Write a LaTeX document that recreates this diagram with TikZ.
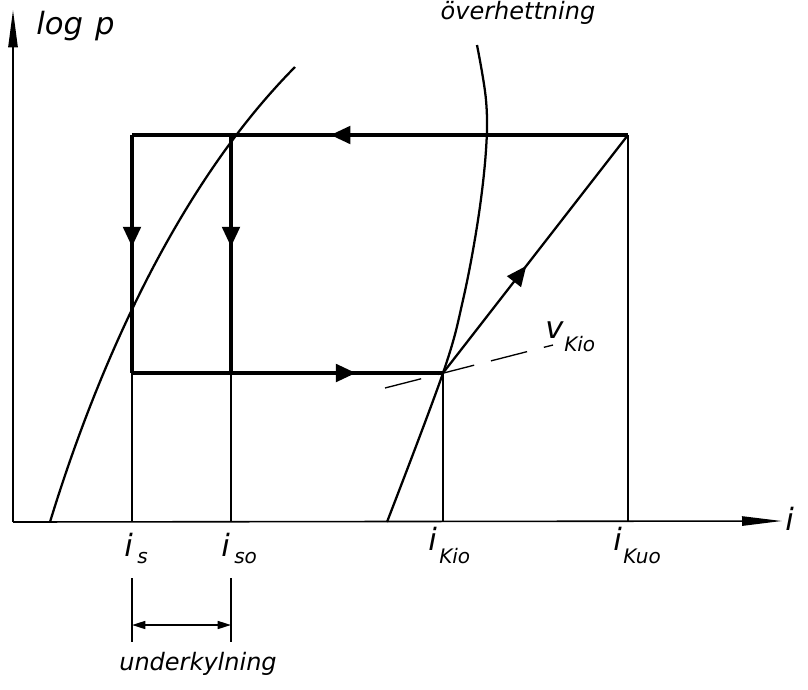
\documentclass[tikz,border=0pt]{standalone}
\usepackage{fontspec}
\setmainfont{DejaVu Sans}
\usetikzlibrary{arrows.meta,decorations.markings}
\begin{document}
\begin{tikzpicture}[x=0.75pt,y=-0.75pt,
  thickline/.style={line width=3pt},
  thinline/.style={line width=1.2pt},
  curveline/.style={line width=1.7pt},
  lbl/.style={font=\itshape\fontsize{23}{23}\selectfont, inner sep=0pt},
  sublbl/.style={font=\itshape\fontsize{15}{15}\selectfont, inner sep=0pt},
  txt/.style={font=\itshape\fontsize{18}{18}\selectfont, inner sep=0pt},
  midarrow/.style={postaction=decorate, decoration={markings,
     mark=at position #1 with {\arrow{Triangle[length=15pt,width=13pt]}}}}
]
\useasboundingbox (0,0) rectangle (808,690);
\clip (0,0) rectangle (808,690);

% key points
\coordinate (O) at (13,522);
\coordinate (Ytop) at (13,10);
\coordinate (Xend) at (782,521);
\coordinate (A) at (132,135);
\coordinate (B) at (231,135);
\coordinate (C) at (628,135);
\coordinate (D) at (132,373);
\coordinate (E) at (231,373);
\coordinate (F) at (443,373);
\coordinate (Ds) at (132,522);
\coordinate (Es) at (231,522);
\coordinate (Fs) at (443,522);
\coordinate (Cs) at (628,522);

% axes
\draw[thinline, -{Triangle[length=28pt,width=7pt]}] (O) -- (Ytop);
\draw[thinline, -{Triangle[length=30pt,width=7pt]}] (O) -- (Xend);

% thin projections
\draw[thinline] (D) -- (Ds);
\draw[thinline] (E) -- (Es);
\draw[thinline] (F) -- (Fs);
\draw[thinline] (C) -- (Cs);

% saturation curves
\draw[curveline] (50,522) .. controls (98,365) and (178,185) .. (295,67);
\draw[curveline] plot[smooth, tension=0.6] coordinates {(387,522) (443,373) (463,300) (478,220) (486,150) (486,100) (477,45)};

% cycle
\draw[thickline, midarrow=0.6] (C) -- (A);
\draw[thickline, midarrow=0.47] (A) -- (D);
\draw[thickline, midarrow=0.47] (B) -- (E);
\draw[thickline, midarrow=0.72] (D) -- (F);
\draw[curveline, midarrow=0.45] (F) -- (C);

% specific volume line
\coordinate (V1) at (385,388);
\coordinate (V2) at (553,345);
\draw[line width=1pt, dash pattern=on 28pt off 13pt] (V1) -- (V2);
\node[lbl, anchor=base west] (vl) at (545,338) {v};
\node[sublbl, anchor=base west] (vsub) at (564,351) {Kio};

% axis labels
\node[lbl, anchor=base west] (logp) at (36,34) {log\hspace{9pt}p};
\node[lbl, anchor=base west] (ix) at (785,530) {i};

% tick labels
\node[lbl, anchor=base west] (is) at (124,556) {i};
\node[sublbl, anchor=base west] at (137,563) {s};
\node[lbl, anchor=base west] (iso) at (221,556) {i};
\node[sublbl, anchor=base west] at (234,563) {so};
\node[lbl, anchor=base west] (ikio) at (428,550) {i};
\node[sublbl, anchor=base west] at (439,563) {Kio};
\node[lbl, anchor=base west] (ikuo) at (613,550) {i};
\node[sublbl, anchor=base west] at (623,563) {Kuo};

% subcooling dimension
\coordinate (T1a) at (132,578);
\coordinate (T1b) at (132,642);
\coordinate (T2a) at (231,578);
\coordinate (T2b) at (231,642);
\draw[thinline] (T1a) -- (T1b);
\draw[thinline] (T2a) -- (T2b);
\draw[thinline, {Triangle[length=10pt,width=6pt]}-{Triangle[length=10pt,width=6pt]}] (132,625) -- (231,625);
\node[txt, anchor=base] (uk) at (198,670) {underkylning};

% superheat label
\node[txt, anchor=base] (oh) at (518,19) {överhettning};
\end{tikzpicture}
\end{document}
